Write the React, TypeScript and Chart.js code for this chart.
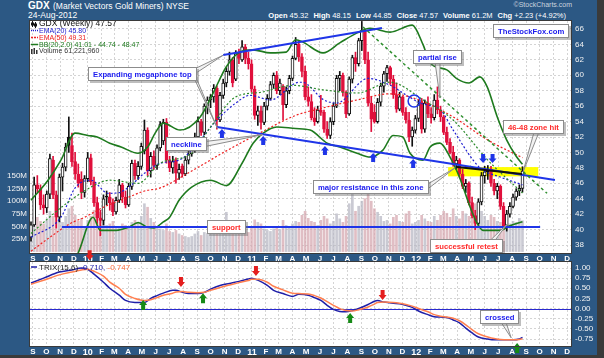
import React, { useEffect, useRef } from 'react';
import { Chart, registerables } from 'chart.js';

Chart.register(...registerables);

const FONT = '"Liberation Sans", Arial, Helvetica, sans-serif';
const FRAME = '#2c5884';
const BLUE_TXT = '#1a1aee';
const RED_TXT = '#ff2a2a';
const LINE_BLUE = '#1f35e8';
const GREEN = '#1e7a1e';

// ---------------- data (weekly GDX, first week ends 28-Aug-2009) ----------------
const firstWeekUTC = Date.UTC(2009, 7, 28);

const opens = [
  39.0, 40.6, 45.8, 45.3, 43.2, 42.8, 44.6, 49.0, 44.5, 41.6,
  46.8, 48.1, 52.0, 50.9, 48.8, 47.2, 46.5, 44.8, 46.6, 49.3,
  46.2, 43.5, 41.5, 41.2, 44.3, 44.2, 43.5, 42.3, 43.8, 45.8,
  44.2, 43.2, 45.6, 48.6, 47.0, 48.2, 50.2, 52.9, 47.6, 49.5,
  48.3, 50.6, 51.5, 53.9, 49.0, 48.0, 49.0, 47.3, 48.2, 47.2,
  49.0, 49.8, 50.5, 52.0, 54.0, 52.6, 56.0, 56.8, 57.2, 58.3,
  54.2, 57.4, 59.0, 60.5, 62.0, 59.5, 62.9, 62.0, 63.7, 62.2,
  61.5, 58.2, 54.8, 55.4, 53.9, 56.0, 57.0, 58.8, 60.0, 58.0,
  58.6, 56.2, 58.0, 59.6, 62.2, 64.0, 62.4, 60.5, 57.2, 56.6,
  54.5, 54.0, 55.5, 55.2, 53.0, 52.2, 54.0, 56.0, 59.6, 60.0,
  57.8, 55.0, 59.5, 62.3, 61.5, 64.5, 65.8, 62.0, 56.4, 55.2,
  54.0, 56.5, 58.6, 60.2, 61.0, 59.5, 57.5, 55.6, 57.2, 55.2,
  54.2, 52.0, 52.9, 54.4, 56.5, 53.0, 56.4, 55.0, 54.5, 56.8,
  55.5, 54.6, 52.6, 51.3, 50.0, 48.5, 49.0, 47.2, 45.6, 46.0,
  43.5, 41.8, 40.8, 43.6, 47.0, 47.5, 47.8, 46.0, 45.0, 45.6,
  43.0, 40.4, 42.0, 43.0, 44.2, 45.0, 45.32,
];
const highs = [
  41.0, 46.8, 47.0, 45.8, 44.5, 45.0, 49.8, 49.5, 45.0, 47.2,
  48.6, 51.2, 54.6, 52.5, 50.0, 48.5, 47.5, 47.0, 50.0, 49.8,
  46.8, 44.2, 42.5, 44.5, 45.0, 44.8, 44.0, 44.2, 46.5, 46.0,
  45.0, 46.0, 49.0, 49.0, 48.8, 51.2, 54.2, 53.2, 50.0, 50.2,
  51.0, 54.0, 54.3, 54.4, 49.5, 49.5, 49.3, 48.5, 48.5, 49.5,
  50.5, 51.2, 52.5, 54.6, 54.3, 56.3, 57.2, 57.5, 58.8, 58.6,
  57.8, 59.5, 61.0, 63.0, 62.3, 63.2, 63.4, 64.5, 64.0, 63.0,
  62.0, 58.6, 56.0, 56.0, 56.5, 57.5, 59.2, 60.3, 60.5, 59.5,
  58.8, 58.5, 60.0, 62.5, 64.9, 64.5, 62.8, 61.2, 58.5, 57.5,
  55.8, 56.0, 57.4, 55.5, 54.0, 54.5, 56.4, 60.0, 60.5, 60.3,
  58.0, 59.8, 62.6, 63.0, 64.8, 66.98, 66.0, 63.0, 57.2, 56.2,
  57.0, 59.0, 60.5, 61.3, 61.2, 60.0, 59.0, 57.8, 57.3, 55.8,
  55.2, 53.3, 54.8, 56.8, 57.0, 56.8, 57.2, 55.8, 57.5, 58.5,
  56.0, 54.8, 53.3, 51.8, 50.8, 49.5, 49.2, 47.8, 46.5, 46.2,
  44.2, 42.5, 44.0, 47.4, 48.2, 48.3, 48.2, 46.5, 46.0, 45.8,
  43.5, 42.5, 43.5, 44.6, 45.3, 45.8, 48.15,
];
const lows = [
  38.5, 40.4, 44.8, 42.6, 42.0, 42.2, 44.0, 44.0, 40.2, 41.0,
  45.0, 47.6, 50.0, 48.2, 46.5, 45.5, 44.0, 44.2, 46.2, 45.8,
  43.0, 40.8, 39.2, 40.6, 43.2, 42.5, 41.8, 42.0, 43.5, 43.5,
  42.8, 43.0, 45.2, 46.5, 46.5, 47.8, 49.8, 47.0, 46.8, 47.8,
  47.8, 50.2, 51.0, 48.6, 47.5, 47.3, 46.0, 46.5, 46.8, 47.0,
  48.5, 49.5, 50.0, 51.8, 52.2, 52.3, 55.0, 55.8, 56.5, 53.0,
  54.0, 57.0, 58.5, 60.0, 58.5, 59.3, 61.5, 61.8, 61.5, 60.8,
  57.8, 54.3, 53.5, 53.0, 53.6, 55.5, 56.8, 58.3, 57.6, 57.5,
  54.2, 55.8, 57.6, 59.3, 62.0, 61.8, 59.8, 56.8, 56.0, 54.2,
  53.5, 53.8, 54.8, 52.6, 51.8, 51.8, 53.6, 55.8, 58.0, 57.3,
  54.5, 54.8, 59.0, 60.5, 61.2, 63.2, 61.5, 56.0, 52.7, 53.8,
  53.8, 56.0, 57.8, 59.2, 58.8, 57.0, 55.2, 55.4, 54.8, 53.8,
  51.4, 50.8, 52.5, 54.0, 52.5, 52.6, 54.5, 53.8, 54.2, 55.0,
  54.0, 52.3, 51.0, 49.8, 48.2, 47.8, 46.8, 45.3, 44.8, 43.2,
  41.5, 40.0, 40.6, 43.2, 46.0, 46.5, 45.6, 44.5, 44.0, 42.6,
  40.0, 39.8, 41.6, 42.8, 43.8, 44.4, 44.85,
];
const closes = [
  40.6, 45.8, 45.3, 43.2, 42.8, 44.6, 49.2, 44.5, 41.6, 46.8,
  48.1, 50.7, 50.9, 48.8, 47.2, 46.0, 44.8, 46.6, 49.3, 46.2,
  43.5, 41.5, 41.2, 44.0, 44.2, 43.5, 42.3, 43.8, 45.8, 44.2,
  43.2, 45.6, 48.6, 47.0, 48.2, 50.8, 52.9, 47.6, 49.5, 48.3,
  50.6, 53.6, 53.9, 49.0, 48.0, 48.8, 47.3, 47.8, 47.2, 49.0,
  49.8, 50.9, 52.0, 54.0, 52.6, 56.0, 56.8, 57.2, 58.3, 54.2,
  57.4, 59.0, 60.5, 62.0, 59.0, 62.9, 62.2, 63.7, 62.2, 61.5,
  58.2, 54.8, 55.4, 53.9, 56.0, 57.0, 58.8, 60.0, 58.0, 59.0,
  56.2, 58.0, 59.6, 62.2, 64.0, 62.4, 60.5, 57.2, 56.6, 54.5,
  54.0, 55.5, 55.2, 53.0, 52.2, 54.0, 56.0, 59.6, 60.0, 57.8,
  55.0, 59.5, 62.3, 61.5, 64.5, 65.8, 62.0, 56.4, 54.3, 54.0,
  56.5, 58.6, 60.2, 61.0, 59.5, 57.5, 55.6, 57.2, 55.2, 54.2,
  52.0, 52.9, 54.4, 56.2, 53.0, 56.4, 55.0, 54.5, 56.8, 55.5,
  54.6, 52.6, 51.3, 50.0, 48.5, 49.0, 47.2, 45.6, 46.0, 43.5,
  41.8, 40.8, 43.6, 47.0, 47.5, 47.8, 46.0, 45.0, 45.6, 43.0,
  40.4, 42.0, 43.0, 44.2, 45.0, 45.34, 47.57,
];
const volumesM = [
  45, 75, 68, 60, 55, 62, 80, 70, 72, 65,
  58, 70, 85, 90, 72, 60, 66, 48, 62, 70,
  82, 88, 78, 60, 52, 55, 60, 50, 48, 55,
  52, 50, 58, 62, 55, 70, 95, 88, 66, 58,
  50, 45, 42, 55, 40, 38, 42, 35, 32, 30,
  28, 30, 35, 40, 32, 38, 36, 34, 42, 48,
  55, 45, 78, 60, 50, 42, 40, 45, 42, 38,
  50, 63, 58, 55, 45, 42, 40, 45, 48, 44,
  62, 52, 48, 55, 60, 58, 72, 80, 66, 60,
  58, 52, 62, 70, 65, 55, 60, 75, 65, 58,
  70, 95, 115, 80, 90, 100, 105, 120, 100, 85,
  78, 70, 60, 62, 55, 68, 72, 60, 58, 75,
  80, 55, 58, 62, 72, 65, 60, 58, 70, 62,
  72, 80, 76, 68, 85, 70, 65, 80, 75, 70,
  92, 95, 88, 80, 70, 62, 72, 68, 60, 58,
  75, 70, 55, 60, 58, 66, 61.22,
];

// overlays (week index, value)
const ema20Weeks = [0, 9.5, 14, 19, 24.5, 28, 31, 36, 41, 47, 51, 59, 65, 69.5, 76, 84, 86, 93, 97, 107, 114, 120, 123.5, 130, 134, 142.5, 149, 156];
const ema20Values = [39.0, 41.6, 45.4, 46.4, 44.7, 44.8, 45.5, 47.3, 48.6, 49.0, 50.3, 54.2, 56.4, 57.4, 56.8, 59.0, 59.1, 56.8, 56.4, 59.6, 58.7, 57.2, 56.4, 55.5, 52.9, 48.0, 46.8, 45.8];
const ema50Weeks = [0, 6, 12.5, 17, 23.5, 31, 36, 41, 51, 62, 73, 84, 93, 103.5, 114, 122.5, 134, 145, 156];
const ema50Values = [37.2, 39.0, 40.8, 41.6, 43.0, 44.2, 45.0, 45.4, 47.6, 50.2, 52.6, 54.8, 55.8, 56.8, 57.6, 56.9, 54.6, 51.6, 49.31];
const bbMidWeeks = [0, 10, 19, 25, 34, 41, 51, 57, 65, 73, 83, 93, 103.5, 114, 124.5, 134, 145, 156];
const bbMidValues = [39.5, 43.0, 45.5, 46.4, 46.0, 48.6, 49.9, 53.3, 57.2, 57.8, 58.7, 58.1, 57.7, 59.1, 56.8, 54.2, 49.0, 44.74];
const bbUpWeeks = [0, 5.4, 9.5, 14, 18, 21, 25, 28.6, 34, 37, 39.4, 42, 47.3, 53.7, 57.8, 62, 66.3, 70.5, 76, 81, 84, 86.3, 92.7, 98, 103.5, 107.6, 114, 121, 124.4, 126.7, 132, 135, 139, 142.5, 144.8, 148, 151, 154, 156];
const bbUpValues = [43.8, 46.4, 49.0, 52.5, 52.2, 52.0, 51.2, 50.7, 49.9, 50.7, 52.5, 53.8, 52.9, 54.6, 57.7, 61.1, 63.0, 63.3, 62.9, 63.0, 64.6, 64.3, 62.9, 64.2, 65.5, 66.1, 65.6, 66.5, 64.0, 61.6, 60.7, 59.6, 59.0, 59.8, 58.5, 54.6, 51.6, 49.5, 48.47];
const bbLowWeeks = [0, 8, 13, 15, 19.7, 22, 27, 31, 34, 37, 39, 42, 44, 47, 51, 57, 62, 67, 70.5, 73.7, 78, 84, 88.6, 94, 98, 103.5, 107.6, 111.7, 114.9, 118, 120.3, 124.4, 126.7, 129.8, 133, 136, 139.4, 141.6, 143.5, 149, 152, 156];
const bbLowValues = [33.0, 34.0, 35.5, 37.0, 41.6, 39.9, 39.9, 40.3, 40.9, 40.3, 40.2, 41.0, 41.6, 43.8, 45.5, 46.4, 45.7, 48.6, 51.2, 52.5, 53.3, 53.1, 52.9, 51.2, 50.7, 49.9, 49.4, 50.3, 52.2, 52.0, 49.9, 49.0, 50.7, 51.2, 49.4, 46.8, 42.9, 40.8, 39.9, 39.9, 40.5, 41.01];

const trixWeeks = [0, 4, 9, 13, 16, 18, 20, 23, 25, 28, 30, 33, 36, 38, 40, 42, 45, 46, 48, 50, 53, 55, 57, 60, 63, 66, 69, 70, 72, 75, 77, 80, 83, 85, 88, 90, 92, 94, 96, 98, 100, 102, 104, 107, 109, 110, 112, 115, 117, 119, 121, 123, 126, 128, 130, 132, 134, 136, 138, 140, 142, 145, 147, 149, 151, 153, 155, 156];
const trixValues = [
  0.63, 0.75, 0.9, 0.95, 1.0, 0.97, 0.85, 0.65, 0.5, 0.33,
  0.2, 0.15, 0.15, 0.25, 0.32, 0.38, 0.45, 0.45, 0.4, 0.37,
  0.37, 0.4, 0.48, 0.57, 0.62, 0.67, 0.73, 0.75, 0.7, 0.57,
  0.45, 0.37, 0.3, 0.35, 0.33, 0.27, 0.2, 0.08, -0.02, -0.07,
  -0.08, -0.05, 0.0, 0.1, 0.18, 0.2, 0.16, 0.13, 0.12, 0.08,
  0.03, -0.06, -0.15, -0.2, -0.21, -0.22, -0.28, -0.35, -0.48, -0.6,
  -0.7, -0.75, -0.77, -0.77, -0.77, -0.77, -0.75, -0.71,
];
const signalValues = [
  0.6, 0.7, 0.83, 0.9, 0.95, 0.97, 0.92, 0.8, 0.65, 0.5,
  0.35, 0.25, 0.2, 0.22, 0.27, 0.33, 0.38, 0.41, 0.42, 0.4,
  0.39, 0.4, 0.45, 0.52, 0.58, 0.64, 0.69, 0.72, 0.72, 0.65,
  0.55, 0.46, 0.38, 0.37, 0.36, 0.32, 0.26, 0.17, 0.08, 0.0,
  -0.05, -0.06, -0.03, 0.04, 0.11, 0.15, 0.16, 0.15, 0.13, 0.1,
  0.06, 0.0, -0.08, -0.15, -0.19, -0.21, -0.24, -0.3, -0.4, -0.52,
  -0.62, -0.7, -0.74, -0.76, -0.77, -0.77, -0.76, -0.747,
];

// axes
const monthLabels = ['S', 'O', 'N', 'D', '10', 'F', 'M', 'A', 'M', 'J', 'J', 'A', 'S', 'O', 'N', 'D', '11', 'F', 'M', 'A', 'M', 'J', 'J', 'A', 'S', 'O', 'N', 'D', '12', 'F', 'M', 'A', 'M', 'J', 'J', 'A', 'S', 'O', 'N', 'D'];
const priceTicks = [38, 40, 42, 44, 46, 48, 50, 52, 54, 56, 58, 60, 62, 64, 66];
const volumeTicksM = [25, 50, 75, 100, 125, 150];
const trixTicks = [1, 0.75, 0.5, 0.25, 0, -0.25, -0.5, -0.75];

const legendTexts = ['GDX (Weekly) 47.57', 'EMA(20) 45.80', 'EMA(50) 49.31', 'BB(20,2.0) 41.01 - 44.74 - 48.47', 'Volume 61,221,960'];
const statLabels = ['Open', 'High', 'Low', 'Close', 'Volume', 'Chg'];
const statValues = ['45.32', '48.15', '44.85', '47.57', '61.2M', '+2.23 (+4.92%)'];

// annotations (week index, price)
const trendLines = [
  { from: [61, 62.63], to: [111.4, 66.13], color: LINE_BLUE, width: 2, dash: [] },
  { from: [59, 53.3], to: [166.3, 46.43], color: LINE_BLUE, width: 2, dash: [] },
  { from: [9.8, 40.33], to: [161.6, 40.33], color: LINE_BLUE, width: 2, dash: [] },
  { from: [135.2, 48.1], to: [155.9, 47.2], color: '#111111', width: 2, dash: [] },
  { from: [105.4, 66.26], to: [163.8, 44.7], color: '#2f8f2f', width: 1.5, dash: [3, 3] },
];
const yellowZone = { weeks: [132.4, 161], prices: [46.9, 48.1] };
const circleAt = [121.6, 56.67];
const blueUpArrows = [[60.6, 53.04], [73.7, 52.13], [93.3, 50.83], [108.6, 49.93], [121.3, 49.15]];
const blueDownArrows = [[143.5, 48.63], [146.5, 48.63]];
const mainNotes = [
  { text: 'TheStockFox.com', color: BLUE_TXT, at: [146.7, 66.65], pointers: [] },
  { text: 'Expanding megaphone top', color: BLUE_TXT, at: [18.1, 61.07], pointers: [{ side: 'right', f: 0.3, to: [61, 62.6] }, { side: 'right', f: 0.75, to: [59.2, 53.1] }] },
  { text: 'neckline', color: BLUE_TXT, at: [42.9, 52.0], pointers: [{ side: 'right', f: 0.5, to: [73.5, 52.3] }] },
  { text: 'partial rise', color: BLUE_TXT, at: [121.3, 63.28], pointers: [{ side: 'bottom', f: 0.5, to: [129.8, 57.05] }] },
  { text: '46-48 zone hit', color: RED_TXT, at: [149.8, 54.2], pointers: [{ side: 'bottom', f: 0.55, to: [156.2, 47.5] }] },
  { text: 'major resistance in this zone', color: BLUE_TXT, at: [89.5, 46.43], pointers: [{ side: 'right', f: 0.5, to: [134.6, 48.0] }] },
  { text: 'support', color: RED_TXT, at: [55.9, 41.24], pointers: [] },
  { text: 'successful retest', color: RED_TXT, at: [126.7, 38.78], pointers: [{ side: 'top', f: 0.85, to: [151.1, 40.7] }] },
];
const trixRedArrows = [[18.6, 1.19], [47.6, 0.53], [71.4, 0.8], [111.6, 0.21]];
const trixGreenArrows = [[35.6, 0.21], [54.6, 0.38], [101.3, -0.11], [154.3, -0.85]];
const lowerNotes = [
  { text: 'crossed', color: BLUE_TXT, at: [142.5, -0.03], pointers: [{ side: 'bottom', f: 0.6, to: [152.4, -0.72] }] },
];

// ---------------- helpers ----------------
const X_MIN = -0.32;
const X_MAX = 171.4;
const monthPositions = monthLabels.map((_, k) => (Date.UTC(2009, 8 + k, 1) - firstWeekUTC) / (7 * 86400000));
const pairs = (w: number[], v: number[]) => w.map((x, i) => ({ x, y: v[i] }));

function pt(chart: any, wk: number, v: number, yId = 'y') {
  return [chart.scales.x.getPixelForValue(wk), chart.scales[yId].getPixelForValue(v)];
}

function drawArrow(ctx: CanvasRenderingContext2D, x: number, y: number, up: boolean, color: string, w = 8, h = 10) {
  const d = up ? 1 : -1;
  const hh = h * 0.5;
  const sw = w * 0.25;
  ctx.beginPath();
  ctx.moveTo(x, y);
  ctx.lineTo(x + w / 2, y + d * hh);
  ctx.lineTo(x + sw, y + d * hh);
  ctx.lineTo(x + sw, y + d * h);
  ctx.lineTo(x - sw, y + d * h);
  ctx.lineTo(x - sw, y + d * hh);
  ctx.lineTo(x - w / 2, y + d * hh);
  ctx.closePath();
  ctx.fillStyle = color;
  ctx.fill();
}

function drawNote(ctx: CanvasRenderingContext2D, chart: any, note: any, yId = 'y') {
  const [x, y] = pt(chart, note.at[0], note.at[1], yId);
  ctx.font = `bold 7.7px ${FONT}`;
  const w = Math.round(ctx.measureText(note.text).width + 10);
  const h = 14;
  const bx = Math.round(x);
  const by = Math.round(y);
  for (const p of note.pointers) {
    const [tx, ty] = pt(chart, p.to[0], p.to[1], yId);
    let b1: number[];
    let b2: number[];
    if (p.side === 'right') {
      const yy = by + h * p.f;
      b1 = [bx + w - 2, yy - 2.5];
      b2 = [bx + w - 2, yy + 2.5];
    } else if (p.side === 'bottom') {
      const xx = bx + w * p.f;
      b1 = [xx - 2.5, by + h - 2];
      b2 = [xx + 2.5, by + h - 2];
    } else {
      const xx = bx + w * p.f;
      b1 = [xx - 2.5, by + 2];
      b2 = [xx + 2.5, by + 2];
    }
    ctx.beginPath();
    ctx.moveTo(b1[0], b1[1]);
    ctx.lineTo(tx, ty);
    ctx.lineTo(b2[0], b2[1]);
    ctx.closePath();
    ctx.fillStyle = '#f2f2f2';
    ctx.fill();
    ctx.strokeStyle = '#8c8c8c';
    ctx.lineWidth = 1;
    ctx.stroke();
  }
  ctx.fillStyle = 'rgba(110,110,110,0.45)';
  ctx.fillRect(bx + 2, by + 2, w, h);
  ctx.fillStyle = '#ffffff';
  ctx.fillRect(bx, by, w, h);
  ctx.strokeStyle = '#8c8c8c';
  ctx.lineWidth = 1;
  ctx.strokeRect(bx + 0.5, by + 0.5, w - 1, h - 1);
  ctx.fillStyle = note.color;
  ctx.textBaseline = 'middle';
  ctx.textAlign = 'left';
  ctx.fillText(note.text, bx + 5, by + h / 2 + 0.5);
}

function xScale(height: number) {
  return {
    type: 'linear',
    position: 'bottom',
    min: X_MIN,
    max: X_MAX,
    offset: false,
    afterBuildTicks: (s: any) => { s.ticks = monthPositions.map((v) => ({ value: v })); },
    afterFit: (s: any) => { s.height = height; s.paddingLeft = 0; s.paddingRight = 0; },
    grid: { color: '#d4d4d4', drawTicks: false, offset: false, lineWidth: 1 },
    border: { display: false, dash: [2, 2] },
    ticks: {
      autoSkip: false,
      maxRotation: 0,
      minRotation: 0,
      padding: 1,
      color: '#ffffff',
      font: (c: any) => ({ family: FONT, size: /^\d/.test(monthLabels[c.index] || '') ? 9 : 8, weight: 'bold' }),
      callback: (_v: any, i: number) => monthLabels[i],
    },
  };
}

function yRightScale(min: number, max: number, ticks: number[], fmt: (v: number) => string) {
  return {
    type: 'linear',
    position: 'right',
    min,
    max,
    afterBuildTicks: (s: any) => { s.ticks = ticks.map((v) => ({ value: v })); },
    afterFit: (s: any) => { s.width = 33; s.paddingTop = 0; s.paddingBottom = 0; },
    grid: { color: '#d4d4d4', drawTicks: false, lineWidth: 1 },
    border: { display: false, dash: [2, 2] },
    ticks: { autoSkip: false, color: '#f2f2f2', padding: 4, font: { family: FONT, size: 8 }, callback: (v: any) => fmt(Number(v)) },
  };
}

// ---------------- main price panel ----------------
function buildMainConfig() {
  const candleColor = closes.map((c, i) => (i > 0 && c < closes[i - 1] ? '#e0103c' : '#111111'));
  const bodyFill = closes.map((c, i) => (c < opens[i] ? candleColor[i] : '#ffffff'));
  const volColor = closes.map((c, i) => (i > 0 && c < closes[i - 1] ? 'rgba(214,168,176,0.75)' : 'rgba(184,184,196,0.75)'));

  const lineDs = (label: string, w: number[], v: number[], color: string, width: number, dash: number[], order: number) => ({
    type: 'line',
    label,
    data: pairs(w, v),
    borderColor: color,
    borderWidth: width,
    borderDash: dash,
    pointRadius: 0,
    cubicInterpolationMode: 'monotone',
    fill: false,
    yAxisID: 'y',
    order,
  });

  const plugin = {
    id: 'mainDeco',
    beforeDraw(chart: any) {
      const { ctx, chartArea: a } = chart;
      ctx.save();
      ctx.fillStyle = '#ffffff';
      ctx.fillRect(a.left, a.top, a.right - a.left, a.bottom - a.top);
      ctx.restore();
    },
    beforeDatasetsDraw(chart: any) {
      const { ctx } = chart;
      const [x1, y1] = pt(chart, yellowZone.weeks[0], yellowZone.prices[1]);
      const [x2, y2] = pt(chart, yellowZone.weeks[1], yellowZone.prices[0]);
      ctx.save();
      ctx.fillStyle = '#ffff00';
      ctx.fillRect(x1, y1, x2 - x1, y2 - y1);
      ctx.restore();
    },
    afterDatasetsDraw(chart: any) {
      const { ctx, chartArea: a } = chart;
      ctx.save();
      ctx.beginPath();
      ctx.rect(a.left, a.top, a.right - a.left, a.bottom - a.top);
      ctx.clip();
      for (const l of trendLines) {
        const [x1, y1] = pt(chart, l.from[0], l.from[1]);
        const [x2, y2] = pt(chart, l.to[0], l.to[1]);
        ctx.beginPath();
        ctx.setLineDash(l.dash);
        ctx.strokeStyle = l.color;
        ctx.lineWidth = l.width;
        ctx.moveTo(x1, y1);
        ctx.lineTo(x2, y2);
        ctx.stroke();
      }
      ctx.setLineDash([]);
      const [cx, cy] = pt(chart, circleAt[0], circleAt[1]);
      ctx.beginPath();
      ctx.arc(cx, cy, 6, 0, Math.PI * 2);
      ctx.strokeStyle = LINE_BLUE;
      ctx.lineWidth = 1.5;
      ctx.stroke();
      for (const [w, p] of blueUpArrows) {
        const [x, y] = pt(chart, w, p);
        drawArrow(ctx, x, y, true, LINE_BLUE, 8, 9);
      }
      for (const [w, p] of blueDownArrows) {
        const [x, y] = pt(chart, w, p);
        drawArrow(ctx, x, y, false, LINE_BLUE, 8, 9);
      }
      for (const n of mainNotes) drawNote(ctx, chart, n, 'y');
      ctx.restore();

      // legend
      ctx.save();
      const x0 = a.left + 1;
      const t = a.top;
      ctx.textBaseline = 'middle';
      ctx.textAlign = 'left';
      ctx.fillStyle = '#111';
      ctx.fillRect(x0 + 1, t + 0, 1, 6);
      ctx.fillRect(x0, t + 1.5, 3, 3);
      ctx.fillRect(x0 + 4, t + 1, 1, 6);
      ctx.fillRect(x0 + 3, t + 2.5, 3, 3);
      ctx.font = `8.5px ${FONT}`;
      ctx.fillText(legendTexts[0], x0 + 8, t + 3);
      const rows = [
        { y: t + 9.5, color: '#2020d0', dash: [1, 1] },
        { y: t + 16.5, color: '#ee2020', dash: [2, 1] },
        { y: t + 23.5, color: GREEN, dash: [] },
      ];
      ctx.font = `7px ${FONT}`;
      rows.forEach((r, i) => {
        ctx.beginPath();
        ctx.setLineDash(r.dash);
        ctx.strokeStyle = r.color;
        ctx.lineWidth = 1.5;
        ctx.moveTo(x0, r.y);
        ctx.lineTo(x0 + 7, r.y);
        ctx.stroke();
        ctx.setLineDash([]);
        ctx.fillStyle = r.color;
        ctx.fillText(legendTexts[i + 1], x0 + 8, r.y + 0.5);
      });
      ctx.fillStyle = '#333';
      ctx.fillRect(x0, t + 28, 1.5, 5);
      ctx.fillRect(x0 + 2.5, t + 27, 1.5, 6);
      ctx.fillRect(x0 + 5, t + 29, 1.5, 4);
      ctx.fillText(legendTexts[4], x0 + 8, t + 30.5);
      ctx.restore();
    },
    afterDraw(chart: any) {
      const { ctx, chartArea: a } = chart;
      ctx.save();
      ctx.strokeStyle = '#3a3a3a';
      ctx.lineWidth = 1;
      ctx.strokeRect(a.left - 0.5, a.top - 0.5, a.right - a.left + 1, a.bottom - a.top + 1);
      ctx.restore();
    },
  };

  return {
    type: 'bar',
    data: {
      datasets: [
        lineDs('BB upper', bbUpWeeks, bbUpValues, GREEN, 1.6, [], 1),
        lineDs('BB lower', bbLowWeeks, bbLowValues, GREEN, 1.6, [], 1),
        lineDs('BB mid', bbMidWeeks, bbMidValues, '#2a8a2a', 1.2, [2, 2], 1),
        lineDs('EMA50', ema50Weeks, ema50Values, '#ee2020', 1.2, [2, 2], 1),
        lineDs('EMA20', ema20Weeks, ema20Values, '#2020d0', 1.2, [2, 2], 1),
        {
          type: 'bar',
          label: 'body',
          data: opens.map((o, i) => ({ x: i, y: [o, closes[i]] })),
          backgroundColor: bodyFill,
          borderColor: candleColor,
          borderWidth: 1,
          borderSkipped: false,
          barThickness: 3,
          grouped: false,
          yAxisID: 'y',
          order: 3,
        },
        {
          type: 'bar',
          label: 'wick',
          data: lows.map((l, i) => ({ x: i, y: [l, highs[i]] })),
          backgroundColor: candleColor,
          barThickness: 1,
          grouped: false,
          yAxisID: 'y',
          order: 4,
        },
        {
          type: 'bar',
          label: 'volume',
          data: volumesM.map((v, i) => ({ x: i, y: v * 1e6 })),
          backgroundColor: volColor,
          barThickness: 2,
          grouped: false,
          yAxisID: 'yv',
          order: 10,
        },
      ],
    },
    options: {
      responsive: false,
      animation: false,
      events: [],
      layout: { padding: { top: 1, left: 0, right: 0, bottom: 0 } },
      plugins: { legend: { display: false }, tooltip: { enabled: false } },
      scales: {
        x: xScale(9),
        y: yRightScale(36.963, 67.037, priceTicks, (v) => String(v)),
        yv: {
          type: 'linear',
          position: 'left',
          min: -2.78e6,
          max: 457.5e6,
          afterBuildTicks: (s: any) => { s.ticks = volumeTicksM.map((v) => ({ value: v * 1e6 })); },
          afterFit: (s: any) => { s.width = 30; s.paddingTop = 0; s.paddingBottom = 0; },
          grid: { display: false, drawTicks: false },
          border: { display: false },
          ticks: { autoSkip: false, color: '#f2f2f2', padding: 3, font: { family: FONT, size: 8 }, callback: (v: any) => `${Math.round(Number(v) / 1e6)}M` },
        },
      },
    },
    plugins: [plugin],
  };
}

// ---------------- TRIX panel ----------------
function buildLowerConfig() {
  const plugin = {
    id: 'lowDeco',
    beforeDraw(chart: any) {
      const { ctx, chartArea: a } = chart;
      ctx.save();
      ctx.fillStyle = '#ffffff';
      ctx.fillRect(a.left, a.top, a.right - a.left, a.bottom - a.top);
      ctx.restore();
    },
    beforeDatasetsDraw(chart: any) {
      const { ctx, chartArea: a } = chart;
      const y0 = chart.scales.y.getPixelForValue(0);
      ctx.save();
      ctx.strokeStyle = '#2a2ad0';
      ctx.lineWidth = 1;
      ctx.beginPath();
      ctx.moveTo(a.left, Math.round(y0) + 0.5);
      ctx.lineTo(a.right, Math.round(y0) + 0.5);
      ctx.stroke();
      ctx.restore();
    },
    afterDatasetsDraw(chart: any) {
      const { ctx, chartArea: a } = chart;
      ctx.save();
      for (const n of lowerNotes) drawNote(ctx, chart, n, 'y');
      for (const [w, v] of trixRedArrows) {
        const [x, y] = pt(chart, w, v);
        drawArrow(ctx, x, y, false, '#e41e1e', 8, 10);
      }
      for (const [w, v] of trixGreenArrows) {
        const [x, y] = pt(chart, w, v);
        drawArrow(ctx, x, y, true, '#168a16', 8, 10);
      }
      // legend
      const x0 = a.left + 1;
      const ly = a.top + 5;
      ctx.strokeStyle = '#1f1fa8';
      ctx.lineWidth = 1.5;
      ctx.beginPath();
      ctx.moveTo(x0, ly);
      ctx.lineTo(x0 + 6, ly);
      ctx.stroke();
      ctx.font = `8px ${FONT}`;
      ctx.textBaseline = 'middle';
      ctx.textAlign = 'left';
      const parts = [
        { t: 'TRIX(15,6) ', c: '#222' },
        { t: '-0.710, ', c: '#1f1fa8' },
        { t: '-0.747', c: '#ff7040' },
      ];
      let xx = x0 + 8;
      for (const p of parts) {
        ctx.fillStyle = p.c;
        ctx.fillText(p.t, xx, ly + 0.5);
        xx += ctx.measureText(p.t).width;
      }
      ctx.restore();
    },
    afterDraw(chart: any) {
      const { ctx, chartArea: a } = chart;
      ctx.save();
      ctx.strokeStyle = '#3a3a3a';
      ctx.lineWidth = 1;
      ctx.strokeRect(a.left - 0.5, a.top - 0.5, a.right - a.left + 1, a.bottom - a.top + 1);
      ctx.restore();
    },
  };

  return {
    type: 'line',
    data: {
      datasets: [
        { label: 'signal', data: pairs(trixWeeks, signalValues), borderColor: '#ff7f50', borderWidth: 1.5, pointRadius: 0, cubicInterpolationMode: 'monotone', fill: false },
        { label: 'TRIX', data: pairs(trixWeeks, trixValues), borderColor: '#1f1fa8', borderWidth: 1.5, pointRadius: 0, cubicInterpolationMode: 'monotone', fill: false },
      ],
    },
    options: {
      responsive: false,
      animation: false,
      events: [],
      layout: { padding: { top: 18, left: 30, right: 0, bottom: 3 } },
      plugins: { legend: { display: false }, tooltip: { enabled: false } },
      scales: {
        x: xScale(9),
        y: yRightScale(-0.9225, 1.148, trixTicks, (v) => v.toFixed(2)),
      },
    },
    plugins: [plugin],
  };
}

export default function App() {
  const mainRef = useRef<HTMLCanvasElement | null>(null);
  const lowRef = useRef<HTMLCanvasElement | null>(null);

  useEffect(() => {
    const c1 = new Chart(mainRef.current as HTMLCanvasElement, buildMainConfig() as any);
    const c2 = new Chart(lowRef.current as HTMLCanvasElement, buildLowerConfig() as any);
    return () => {
      c1.destroy();
      c2.destroy();
    };
  }, []);

  return (
    <div style={{ position: 'fixed', left: 0, top: 0, width: 604, height: 358, background: FRAME, overflow: 'hidden', fontFamily: FONT }}>
      <div style={{ position: 'absolute', left: 28, top: 0, fontSize: 10, fontWeight: 'bold', color: '#fff', lineHeight: '11px' }}>GDX</div>
      <div style={{ position: 'absolute', left: 53, top: 1, fontSize: 8.5, color: '#fff', lineHeight: '10px', whiteSpace: 'nowrap' }}>(Market Vectors Gold Miners) NYSE</div>
      <div style={{ position: 'absolute', left: 28, top: 11, fontSize: 8.5, color: '#fff', lineHeight: '9px' }}>24-Aug-2012</div>
      <div style={{ position: 'absolute', right: 38, top: 11, fontSize: 7.5, color: '#fff', lineHeight: '9px', whiteSpace: 'nowrap' }}>
        {statLabels.map((l, i) => (
          <span key={l} style={{ marginLeft: i === 0 ? 0 : 5 }}>
            <b>{l}</b> {statValues[i]}
          </span>
        ))}
      </div>
      <div style={{ position: 'absolute', right: 32, top: 1, fontSize: 7, color: '#c9d3df', lineHeight: '8px' }}>©StockCharts.com</div>
      <canvas ref={mainRef} width={604} height={242} style={{ position: 'absolute', left: 0, top: 20 }} />
      <canvas ref={lowRef} width={604} height={114} style={{ position: 'absolute', left: 0, top: 244 }} />
      <div style={{ position: 'absolute', left: 0, top: 355, width: 604, height: 3, background: '#3a3a3a' }} />
      <div style={{ position: 'absolute', left: 597, top: 0, width: 7, height: 358, background: '#3a3a3a' }} />
    </div>
  );
}
